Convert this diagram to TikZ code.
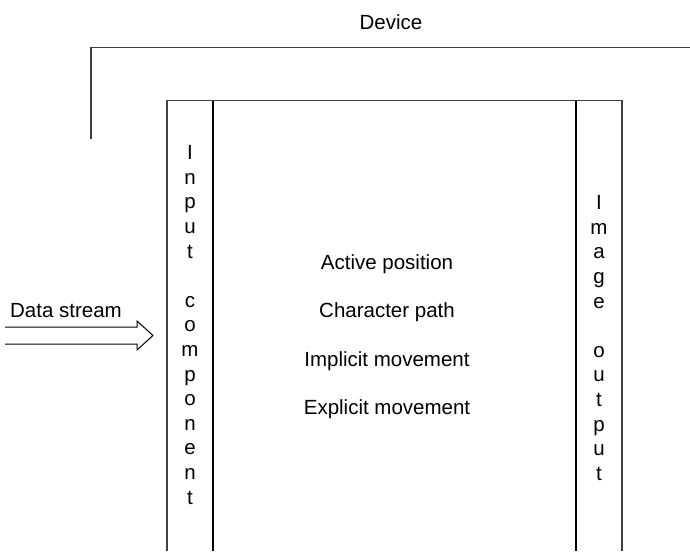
\documentclass[tikz,border=0pt]{standalone}
\usepackage{fontspec}
\setmainfont{Liberation Sans}
\begin{document}
\begin{tikzpicture}[x=1pt,y=-1pt,
  frame/.style={draw=black!75,line width=1.2pt},
  divider/.style={draw=black,line width=1.8pt},
  label/.style={font=\fontsize{20.5}{24.6}\selectfont,inner sep=0pt},
  column/.style={label,align=center}]
\useasboundingbox[fill=white] (0,0) rectangle (690,551);

% Device outline
\draw[frame] (91,139) -- (91,47.5) -- (690,47.5);
\node[label,anchor=base] (device) at (391,30) {Device};

% Outer box, open at the bottom
\draw[frame] (167,551) -- (167,100.7) -- (622,100.7) -- (622,551);
\draw[divider] (213,100.7) -- (213,551);
\draw[divider] (576,100.7) -- (576,551);

% Input component column
\node[column] (input) at (190,325) {I\\n\\p\\u\\t\\\mbox{}\\c\\o\\m\\p\\o\\n\\e\\n\\t};

% Image output column
\node[column] (output) at (599,338) {I\\m\\a\\g\\e\\\mbox{}\\o\\u\\t\\p\\u\\t};

% Central labels
\node[label,anchor=base] (active)   at (387,269)   {Active position};
\node[label,anchor=base] (charpath) at (387,317.5) {Character path};
\node[label,anchor=base] (implicit) at (387,366)   {Implicit movement};
\node[label,anchor=base] (explicit) at (387,414.5) {Explicit movement};

% Data stream and its hollow arrow
\node[label,anchor=base] (data) at (66,317) {Data stream};
\coordinate (tip) at (153,335.5);
\draw[black,line width=1pt,line join=miter]
  (5,327) -- (137,327) -- (137,321) -- (tip) -- (137,350) -- (137,344) -- (5,344);
\end{tikzpicture}
\end{document}
